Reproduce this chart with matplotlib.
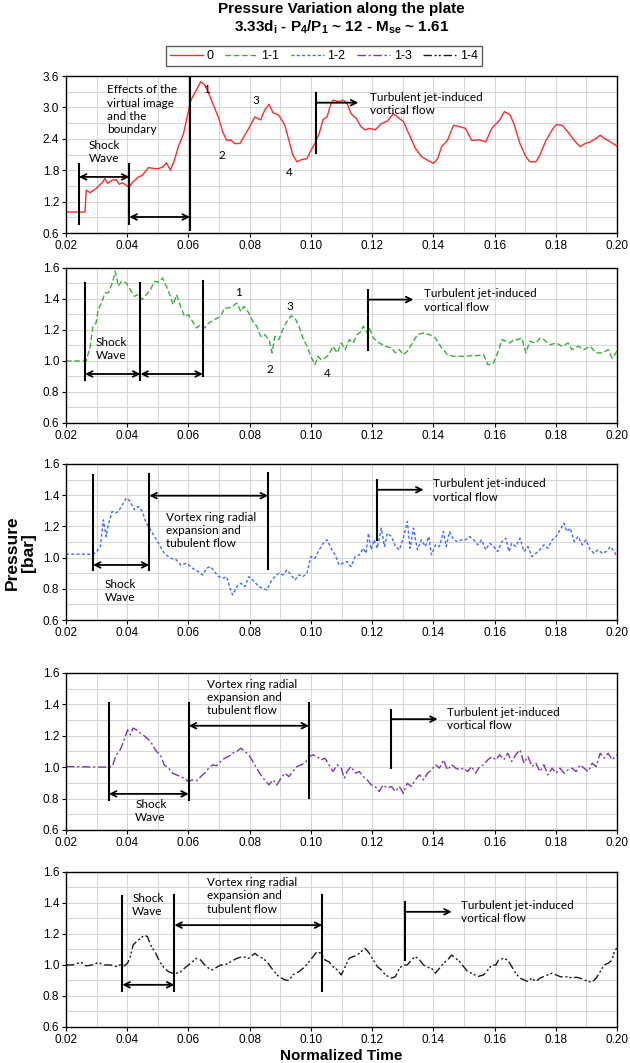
import matplotlib
matplotlib.use("Agg")
import matplotlib.pyplot as plt
import numpy as np
from matplotlib.ticker import MultipleLocator, FormatStrFormatter

plt.rcParams['font.family'] = ['Liberation Sans', 'DejaVu Sans']
plt.rcParams['mathtext.fontset'] = 'custom'
plt.rcParams['mathtext.rm'] = 'Liberation Sans:bold'
plt.rcParams['mathtext.it'] = 'Liberation Sans:bold'
plt.rcParams['mathtext.bf'] = 'Liberation Sans:bold'

# (normalized time, pressure [bar])
s0 = [(0.0200, 1.00), (0.0262, 1.00), (0.0266, 1.42), (0.0279, 1.37), (0.0298, 1.45), (0.0318, 1.56),
      (0.0327, 1.64), (0.0335, 1.55), (0.0351, 1.61), (0.0364, 1.62), (0.0374, 1.53), (0.0384, 1.56),
      (0.0397, 1.51), (0.0406, 1.47), (0.0416, 1.56), (0.0436, 1.67), (0.0449, 1.70), (0.0469, 1.85),
      (0.0489, 1.83), (0.0502, 1.83), (0.0515, 1.86), (0.0528, 1.94), (0.0541, 1.80), (0.0554, 1.99),
      (0.0567, 2.25), (0.0584, 2.50), (0.0598, 2.88), (0.0608, 3.14), (0.0620, 3.27), (0.0640, 3.49),
      (0.0653, 3.43), (0.0666, 3.27), (0.0679, 3.08), (0.0699, 2.79), (0.0712, 2.53), (0.0725, 2.37),
      (0.0738, 2.38), (0.0751, 2.31), (0.0768, 2.31), (0.0784, 2.47), (0.0797, 2.60), (0.0817, 2.82),
      (0.0836, 2.76), (0.0849, 2.95), (0.0863, 3.06), (0.0876, 2.90), (0.0895, 2.85), (0.0915, 2.66),
      (0.0928, 2.37), (0.0941, 2.09), (0.0954, 1.96), (0.0968, 2.00), (0.0987, 2.02), (0.1000, 2.18),
      (0.1013, 2.31), (0.1027, 2.50), (0.1040, 2.77), (0.1053, 2.82), (0.1062, 3.01), (0.1072, 3.14),
      (0.1092, 3.11), (0.1105, 3.14), (0.1118, 3.08), (0.1131, 2.88), (0.1148, 2.79), (0.1164, 2.63),
      (0.1177, 2.57), (0.1191, 2.60), (0.1210, 2.57), (0.1230, 2.69), (0.1250, 2.74), (0.1269, 2.88),
      (0.1282, 2.82), (0.1302, 2.73), (0.1322, 2.47), (0.1341, 2.22), (0.1361, 2.06), (0.1381, 1.99),
      (0.1400, 1.93), (0.1414, 2.02), (0.1427, 2.25), (0.1446, 2.37), (0.1466, 2.66), (0.1486, 2.63),
      (0.1505, 2.60), (0.1525, 2.37), (0.1551, 2.38), (0.1571, 2.34), (0.1591, 2.60), (0.1617, 2.76),
      (0.1632, 2.92), (0.1650, 2.86), (0.1663, 2.69), (0.1683, 2.31), (0.1702, 2.06), (0.1715, 1.96),
      (0.1735, 1.96), (0.1748, 2.09), (0.1768, 2.37), (0.1788, 2.57), (0.1801, 2.67), (0.1820, 2.66),
      (0.1840, 2.53), (0.1860, 2.37), (0.1879, 2.25), (0.1896, 2.31), (0.1912, 2.34), (0.1932, 2.41),
      (0.1945, 2.47), (0.1958, 2.41), (0.1978, 2.34), (0.2000, 2.26)]

s11 = [(0.0200, 1.000), (0.0266, 1.000), (0.0279, 1.095), (0.0288, 1.224), (0.0298, 1.245), (0.0305, 1.331),
       (0.0318, 1.385), (0.0327, 1.439), (0.0338, 1.439), (0.0351, 1.503), (0.0361, 1.578), (0.0371, 1.482),
       (0.0381, 1.514), (0.0397, 1.503), (0.0410, 1.460), (0.0423, 1.417), (0.0436, 1.428), (0.0449, 1.396),
       (0.0462, 1.428), (0.0476, 1.460), (0.0489, 1.514), (0.0502, 1.508), (0.0515, 1.535), (0.0528, 1.482),
       (0.0541, 1.417), (0.0550, 1.363), (0.0561, 1.428), (0.0574, 1.353), (0.0587, 1.288), (0.0600, 1.299),
       (0.0613, 1.256), (0.0626, 1.213), (0.0640, 1.234), (0.0653, 1.213), (0.0666, 1.245), (0.0685, 1.267),
       (0.0705, 1.288), (0.0718, 1.342), (0.0731, 1.342), (0.0744, 1.353), (0.0758, 1.374), (0.0771, 1.320),
       (0.0781, 1.353), (0.0797, 1.310), (0.0810, 1.256), (0.0823, 1.224), (0.0836, 1.159), (0.0849, 1.170),
       (0.0863, 1.138), (0.0873, 1.052), (0.0882, 1.159), (0.0895, 1.138), (0.0908, 1.202), (0.0922, 1.256),
       (0.0935, 1.292), (0.0948, 1.277), (0.0961, 1.224), (0.0974, 1.148), (0.0987, 1.095), (0.1000, 1.030),
       (0.1013, 0.976), (0.1023, 1.030), (0.1033, 1.009), (0.1046, 1.019), (0.1059, 1.041), (0.1072, 1.095),
       (0.1086, 1.052), (0.1099, 1.116), (0.1112, 1.073), (0.1125, 1.138), (0.1138, 1.116), (0.1151, 1.170),
       (0.1164, 1.191), (0.1171, 1.224), (0.1184, 1.181), (0.1191, 1.213), (0.1204, 1.148), (0.1223, 1.116),
       (0.1243, 1.095), (0.1263, 1.084), (0.1276, 1.052), (0.1289, 1.073), (0.1302, 1.041), (0.1315, 1.063),
       (0.1328, 1.105), (0.1348, 1.170), (0.1368, 1.181), (0.1387, 1.170), (0.1407, 1.148), (0.1427, 1.084),
       (0.1446, 1.041), (0.1466, 1.030), (0.1486, 1.030), (0.1505, 1.030), (0.1525, 1.035), (0.1545, 1.035),
       (0.1564, 1.041), (0.1578, 0.976), (0.1595, 0.980), (0.1610, 1.052), (0.1624, 1.138), (0.1637, 1.127),
       (0.1650, 1.116), (0.1663, 1.138), (0.1676, 1.138), (0.1689, 1.148), (0.1702, 1.052), (0.1715, 1.127),
       (0.1735, 1.116), (0.1748, 1.148), (0.1761, 1.138), (0.1781, 1.105), (0.1801, 1.116), (0.1820, 1.095),
       (0.1840, 1.116), (0.1853, 1.073), (0.1873, 1.095), (0.1892, 1.073), (0.1912, 1.095), (0.1932, 1.052),
       (0.1952, 1.052), (0.1971, 1.073), (0.1984, 1.019), (0.2000, 1.063)]

s12 = [(0.0200, 1.022), (0.0285, 1.022), (0.0298, 1.033), (0.0312, 1.071), (0.0322, 1.242), (0.0331, 1.135),
       (0.0338, 1.210), (0.0351, 1.296), (0.0361, 1.285), (0.0371, 1.296), (0.0384, 1.339), (0.0397, 1.382),
       (0.0410, 1.360), (0.0423, 1.307), (0.0436, 1.328), (0.0449, 1.296), (0.0462, 1.221), (0.0476, 1.178),
       (0.0489, 1.135), (0.0502, 1.092), (0.0521, 1.028), (0.0541, 0.996), (0.0561, 0.985), (0.0574, 0.953),
       (0.0594, 0.964), (0.0613, 0.932), (0.0633, 0.910), (0.0646, 0.889), (0.0659, 0.932), (0.0672, 0.943),
       (0.0685, 0.910), (0.0699, 0.878), (0.0712, 0.868), (0.0725, 0.878), (0.0734, 0.814), (0.0744, 0.761),
       (0.0758, 0.814), (0.0771, 0.836), (0.0784, 0.814), (0.0797, 0.878), (0.0810, 0.857), (0.0830, 0.814),
       (0.0843, 0.803), (0.0856, 0.793), (0.0869, 0.846), (0.0882, 0.878), (0.0895, 0.900), (0.0908, 0.889),
       (0.0922, 0.921), (0.0935, 0.889), (0.0948, 0.857), (0.0961, 0.889), (0.0974, 0.878), (0.0987, 0.900),
       (0.1000, 1.007), (0.1013, 0.996), (0.1027, 1.050), (0.1040, 1.092), (0.1053, 1.114), (0.1066, 1.060),
       (0.1079, 1.018), (0.1092, 0.953), (0.1105, 0.964), (0.1118, 0.975), (0.1131, 0.943), (0.1145, 1.007),
       (0.1158, 1.018), (0.1171, 1.060), (0.1180, 1.028), (0.1188, 1.157), (0.1197, 1.050), (0.1206, 1.114),
       (0.1217, 1.060), (0.1230, 1.189), (0.1240, 1.071), (0.1250, 1.157), (0.1263, 1.135), (0.1276, 1.071),
       (0.1289, 1.050), (0.1302, 1.125), (0.1315, 1.232), (0.1324, 1.060), (0.1335, 1.189), (0.1348, 1.050),
       (0.1361, 1.114), (0.1374, 1.071), (0.1385, 1.135), (0.1394, 1.018), (0.1407, 1.082), (0.1420, 1.071),
       (0.1433, 1.167), (0.1442, 1.071), (0.1453, 1.167), (0.1466, 1.114), (0.1479, 1.103), (0.1492, 1.114),
       (0.1505, 1.114), (0.1518, 1.135), (0.1532, 1.114), (0.1545, 1.082), (0.1558, 1.114), (0.1571, 1.050),
       (0.1584, 1.092), (0.1597, 1.071), (0.1610, 1.039), (0.1624, 1.103), (0.1637, 1.125), (0.1647, 1.039),
       (0.1656, 1.092), (0.1669, 1.071), (0.1683, 1.125), (0.1696, 1.039), (0.1709, 1.071), (0.1722, 1.007),
       (0.1735, 1.028), (0.1748, 1.050), (0.1761, 1.082), (0.1774, 1.060), (0.1788, 1.114), (0.1801, 1.135),
       (0.1814, 1.178), (0.1827, 1.221), (0.1836, 1.167), (0.1847, 1.189), (0.1860, 1.103), (0.1873, 1.135),
       (0.1886, 1.082), (0.1899, 1.114), (0.1912, 1.050), (0.1925, 1.028), (0.1938, 1.050), (0.1952, 1.028),
       (0.1965, 1.039), (0.1978, 1.071), (0.1991, 1.039), (0.2000, 1.007)]

s13 = [(0.0200, 1.004), (0.0338, 1.000), (0.0351, 1.004), (0.0364, 1.079), (0.0377, 1.111), (0.0390, 1.174),
       (0.0401, 1.238), (0.0410, 1.206), (0.0419, 1.249), (0.0430, 1.238), (0.0443, 1.217), (0.0458, 1.196),
       (0.0476, 1.164), (0.0495, 1.100), (0.0508, 1.079), (0.0521, 1.015), (0.0535, 0.994), (0.0548, 0.962),
       (0.0561, 0.951), (0.0574, 0.940), (0.0587, 0.930), (0.0600, 0.909), (0.0613, 0.919), (0.0626, 0.913),
       (0.0640, 0.940), (0.0653, 0.962), (0.0666, 0.994), (0.0679, 1.015), (0.0692, 1.009), (0.0705, 1.036),
       (0.0718, 1.057), (0.0731, 1.068), (0.0744, 1.089), (0.0758, 1.100), (0.0771, 1.121), (0.0784, 1.100),
       (0.0797, 1.079), (0.0810, 1.036), (0.0823, 0.994), (0.0836, 0.951), (0.0849, 0.919), (0.0863, 0.887),
       (0.0876, 0.919), (0.0889, 0.887), (0.0902, 0.930), (0.0915, 0.962), (0.0928, 0.940), (0.0941, 0.972),
       (0.0954, 1.004), (0.0968, 1.015), (0.0981, 1.026), (0.0994, 1.068), (0.1007, 1.079), (0.1020, 1.068),
       (0.1033, 1.047), (0.1046, 1.057), (0.1059, 1.015), (0.1072, 0.972), (0.1086, 1.015), (0.1099, 0.994),
       (0.1109, 0.930), (0.1118, 0.972), (0.1131, 1.004), (0.1145, 0.962), (0.1158, 0.972), (0.1171, 0.940),
       (0.1184, 0.919), (0.1197, 0.887), (0.1210, 0.877), (0.1223, 0.845), (0.1236, 0.887), (0.1250, 0.866),
       (0.1263, 0.877), (0.1276, 0.845), (0.1289, 0.877), (0.1302, 0.834), (0.1315, 0.898), (0.1328, 0.877),
       (0.1341, 0.919), (0.1355, 0.951), (0.1368, 0.919), (0.1381, 0.962), (0.1394, 0.983), (0.1407, 1.015),
       (0.1420, 0.994), (0.1433, 1.047), (0.1446, 0.983), (0.1460, 1.015), (0.1473, 0.994), (0.1486, 0.983),
       (0.1499, 0.994), (0.1512, 0.972), (0.1525, 1.004), (0.1538, 0.962), (0.1551, 1.004), (0.1564, 1.015),
       (0.1578, 1.047), (0.1591, 1.068), (0.1604, 1.047), (0.1617, 1.079), (0.1630, 1.047), (0.1643, 1.089),
       (0.1656, 1.036), (0.1669, 1.079), (0.1683, 1.111), (0.1696, 1.026), (0.1709, 1.068), (0.1722, 1.004),
       (0.1735, 1.026), (0.1748, 0.972), (0.1761, 1.015), (0.1774, 0.951), (0.1788, 0.994), (0.1801, 0.962),
       (0.1814, 0.994), (0.1827, 0.962), (0.1840, 0.983), (0.1853, 0.994), (0.1866, 0.972), (0.1879, 1.015),
       (0.1892, 0.994), (0.1906, 0.972), (0.1919, 1.026), (0.1932, 1.004), (0.1945, 1.089), (0.1958, 1.057),
       (0.1971, 1.089), (0.1984, 1.047), (0.2000, 1.079)]

s14 = [(0.0200, 1.000), (0.0220, 1.000), (0.0239, 1.011), (0.0252, 1.015), (0.0266, 0.994), (0.0285, 1.000),
       (0.0305, 1.015), (0.0325, 1.000), (0.0344, 1.000), (0.0364, 0.990), (0.0377, 1.000), (0.0390, 0.994),
       (0.0401, 1.011), (0.0410, 1.054), (0.0419, 1.129), (0.0430, 1.150), (0.0443, 1.172), (0.0456, 1.193),
       (0.0466, 1.182), (0.0479, 1.118), (0.0493, 1.075), (0.0506, 1.021), (0.0521, 0.979), (0.0535, 0.957),
       (0.0548, 0.947), (0.0561, 0.947), (0.0574, 0.957), (0.0587, 0.979), (0.0600, 1.000), (0.0613, 1.021),
       (0.0626, 1.043), (0.0640, 1.032), (0.0653, 1.000), (0.0666, 0.979), (0.0679, 0.968), (0.0692, 0.985),
       (0.0705, 1.000), (0.0718, 1.000), (0.0738, 1.021), (0.0758, 1.043), (0.0777, 1.054), (0.0797, 1.043),
       (0.0817, 1.075), (0.0830, 1.054), (0.0843, 1.043), (0.0856, 1.021), (0.0876, 0.968), (0.0895, 0.925),
       (0.0915, 0.904), (0.0928, 0.900), (0.0941, 0.936), (0.0961, 0.957), (0.0981, 0.989), (0.0994, 1.021),
       (0.1007, 1.054), (0.1020, 1.086), (0.1033, 1.075), (0.1046, 1.032), (0.1059, 1.021), (0.1072, 0.989),
       (0.1086, 0.968), (0.1099, 0.936), (0.1112, 0.989), (0.1125, 1.043), (0.1138, 1.054), (0.1151, 1.064),
       (0.1164, 1.086), (0.1177, 1.107), (0.1191, 1.075), (0.1204, 1.032), (0.1217, 0.989), (0.1230, 0.968),
       (0.1243, 0.936), (0.1263, 0.915), (0.1276, 0.925), (0.1289, 0.979), (0.1302, 1.000), (0.1315, 1.000),
       (0.1328, 1.032), (0.1341, 1.054), (0.1355, 1.032), (0.1368, 1.000), (0.1381, 0.985), (0.1394, 0.979),
       (0.1407, 0.947), (0.1420, 0.979), (0.1433, 1.011), (0.1446, 1.032), (0.1460, 1.064), (0.1473, 1.043),
       (0.1486, 1.021), (0.1499, 0.989), (0.1512, 0.957), (0.1525, 0.947), (0.1545, 0.925), (0.1564, 0.936),
       (0.1578, 0.968), (0.1591, 1.000), (0.1604, 1.000), (0.1613, 1.032), (0.1630, 1.043), (0.1643, 1.032),
       (0.1656, 0.989), (0.1669, 0.947), (0.1683, 0.915), (0.1696, 0.904), (0.1709, 0.893), (0.1722, 0.915),
       (0.1735, 0.893), (0.1748, 0.915), (0.1761, 0.925), (0.1774, 0.936), (0.1788, 0.947), (0.1801, 0.936),
       (0.1814, 0.925), (0.1827, 0.921), (0.1840, 0.925), (0.1853, 0.915), (0.1866, 0.921), (0.1879, 0.915),
       (0.1892, 0.904), (0.1906, 0.893), (0.1919, 0.890), (0.1932, 0.915), (0.1945, 0.957), (0.1958, 1.000),
       (0.1971, 1.011), (0.1984, 1.032), (0.1993, 1.097), (0.2000, 1.107)]

series = [s0, s11, s12, s13, s14]
labels = ["0", "1-1", "1-2", "1-3", "1-4"]
colors = ["#ff2a2a", "#3aae3a", "#3f6bff", "#7b35b5", "#1a1a1a"]
dashes = [None, (4, 2), (2.2, 1.6), (6, 2, 1.5, 2), (6, 2, 1.5, 1.5, 1.5, 2)]

# annotation geometry per panel (data coords)
vlines = [
    [(0.0242, 0.78, 1.915), (0.0407, 0.78, 1.915), (0.0605, 0.65, 3.6), (0.1017, 2.13, 3.28)],
    [(0.0262, 0.88, 1.503), (0.0443, 0.88, 1.503), (0.0647, 0.90, 1.514), (0.1185, 1.073, 1.46)],
    [(0.0288, 0.921, 1.531), (0.0472, 0.921, 1.538), (0.0860, 0.925, 1.542), (0.1217, 1.114, 1.499)],
    [(0.0340, 0.791, 1.409), (0.0601, 0.791, 1.409), (0.0994, 0.802, 1.409), (0.1263, 0.994, 1.366)],
    [(0.0384, 0.829, 1.444), (0.0554, 0.829, 1.450), (0.1037, 0.835, 1.450), (0.1309, 1.033, 1.407)],
]
arrows = [
    [(0.0242, 0.0407, 1.672, '<->'), (0.0407, 0.0605, 0.906, '<->'), (0.1017, 0.1155, 3.09, '->')],
    [(0.0262, 0.0443, 0.916, '<->'), (0.0443, 0.0647, 0.916, '<->'), (0.1185, 0.1335, 1.396, '->')],
    [(0.0288, 0.0472, 0.953, '<->'), (0.0472, 0.0860, 1.397, '<->'), (0.1217, 0.1368, 1.435, '->')],
    [(0.0340, 0.0601, 0.830, '<->'), (0.0601, 0.0994, 1.264, '<->'), (0.1263, 0.1414, 1.306, '->')],
    [(0.0384, 0.0554, 0.872, '<->'), (0.0554, 0.1037, 1.257, '<->'), (0.1309, 0.1460, 1.343, '->')],
]
turb = "Turbulent jet-induced\nvortical flow"
vortex = "Vortex ring radial\nexpansion and\ntubulent flow"
shock = "Shock\nWave"
notes = [
    [(0.0275, 2.15, shock), (0.0335, 2.955, "Effects of the\nvirtual image\nand the\nboundary"), (0.1193, 3.07, turb)],
    [(0.0298, 1.078, shock), (0.1368, 1.39, turb)],
    [(0.0327, 0.785, shock), (0.0528, 1.174, vortex), (0.1398, 1.43, turb)],
    [(0.0426, 0.722, shock), (0.0659, 1.445, vortex), (0.1446, 1.305, turb)],
    [(0.0416, 1.386, shock), (0.0659, 1.446, vortex), (0.1490, 1.343, turb)],
]
numbers = [
    [(0.0659, 3.345, "1"), (0.0709, 2.09, "2"), (0.0821, 3.14, "3"), (0.0928, 1.75, "4")],
    [(0.0762, 1.439, "1"), (0.0866, 0.948, "2"), (0.0931, 1.353, "3"), (0.1055, 0.916, "4")],
    [], [], [],
]

# panel rectangles in figure fractions (left, bottom, width, height)
rects = [(0.1048, 0.7808, 0.8746, 0.1477), (0.1048, 0.6021, 0.8746, 0.1458), (0.1048, 0.4167, 0.8746, 0.1468),
         (0.1048, 0.2192, 0.8746, 0.1477), (0.1048, 0.0339, 0.8746, 0.1458)]

fig = plt.figure(figsize=(6.3, 10.63), dpi=100)
note_font = dict(family=['Lato', 'DejaVu Sans'], fontsize=8.5, color='black')

handles = []
for i in range(5):
    ax = fig.add_axes(rects[i])
    t, p = np.array(series[i]).T
    line, = ax.plot(t, p, color=colors[i], lw=1.0, label=labels[i])
    if dashes[i] is not None:
        line.set_dashes(dashes[i])
    handles.append(line)

    ax.set_xlim(0.02, 0.20)
    ax.xaxis.set_major_locator(MultipleLocator(0.02))
    ax.xaxis.set_minor_locator(MultipleLocator(0.01))
    ax.xaxis.set_major_formatter(FormatStrFormatter('%.2f'))
    if i == 0:
        ax.set_ylim(0.6, 3.6)
        ax.yaxis.set_major_locator(MultipleLocator(0.6))
        ax.yaxis.set_minor_locator(MultipleLocator(0.3))
    else:
        ax.set_ylim(0.6, 1.6)
        ax.yaxis.set_major_locator(MultipleLocator(0.2))
        ax.yaxis.set_minor_locator(MultipleLocator(0.1))
    ax.yaxis.set_major_formatter(FormatStrFormatter('%.1f'))
    ax.grid(which='both', color='#cfcfcf', lw=0.6)
    ax.set_axisbelow(True)
    ax.tick_params(which='major', direction='out', length=3, width=0.8, labelsize=8.5, pad=2)
    ax.tick_params(which='minor', length=0)
    for sp in ax.spines.values():
        sp.set_color('black')
        sp.set_linewidth(1.0)

    for x, y0, y1 in vlines[i]:
        ax.plot([x, x], [y0, y1], color='black', lw=1.5)
    for x0, x1, y, style in arrows[i]:
        ax.annotate('', xy=(x1, y), xytext=(x0, y),
                    arrowprops=dict(arrowstyle=style, lw=1.3, color='black',
                                    shrinkA=0, shrinkB=0, mutation_scale=10))
    for x, y, s in notes[i]:
        ax.text(x, y, s, ha='left', va='center', linespacing=1.25, **note_font)
    for x, y, s in numbers[i]:
        ax.text(x, y, s, ha='center', va='center', **note_font)

    if i == 4:
        ax.set_xlabel("Normalized Time", fontsize=11, fontweight='bold', labelpad=2)

fig.text(0.032, 0.48, "Pressure\n[bar]", rotation=90, ha='center', va='center',
         fontsize=12.5, fontweight='bold', linespacing=1.1)

fig.text(0.542, 1 - 9 / 1063, "Pressure Variation along the plate", ha='center', va='center',
         fontsize=11, fontweight='bold')
fig.text(0.542, 1 - 27 / 1063, r"3.33d$_{i}$ - P$_{4}$/P$_{1}$ ~ 12 - M$_{se}$ ~ 1.61",
         ha='center', va='center', fontsize=11, fontweight='bold')

leg = fig.legend(handles=handles, labels=labels, loc='center', bbox_to_anchor=(0.514, 1 - 56 / 1063),
                 ncol=5, fontsize=9, frameon=True, fancybox=False, handlelength=2.6,
                 handletextpad=0.3, columnspacing=0.95, borderpad=0.35)
leg.get_frame().set_edgecolor('#333333')
leg.get_frame().set_linewidth(1.0)

fig.savefig("out.png", dpi=100)
